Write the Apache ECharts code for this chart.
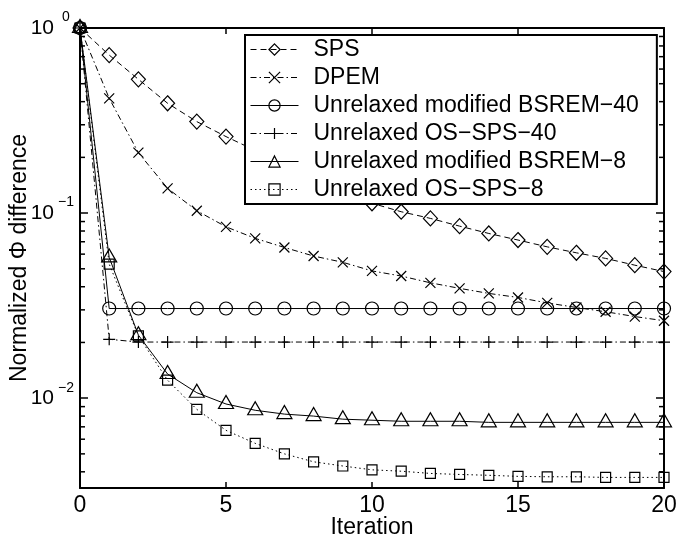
<!DOCTYPE html>
<html>
<head>
<meta charset="utf-8">
<script src="https://cdn.jsdelivr.net/npm/echarts@6/dist/echarts.min.js"></script>
<style>
html,body{margin:0;padding:0;background:#fff;}
#chart{width:678px;height:537px;}
</style>
</head>
<body>
<div id="chart"></div>
<script>
// ---- data ----
const iterations = [0,1,2,3,4,5,6,7,8,9,10,11,12,13,14,15,16,17,18,19,20];
const seriesNames = ['SPS','DPEM','Unrelaxed modified BSREM\u221240','Unrelaxed OS\u2212SPS\u221240','Unrelaxed modified BSREM\u22128','Unrelaxed OS\u2212SPS\u22128'];
const sps = [1, 0.714, 0.528, 0.392, 0.312, 0.259, 0.218, 0.184, 0.156, 0.133, 0.113, 0.1017, 0.0936, 0.085, 0.0776, 0.0715, 0.0657, 0.061, 0.0569, 0.0523, 0.0483];
const dpem = [1, 0.417, 0.212, 0.136, 0.103, 0.0843, 0.073, 0.0652, 0.0586, 0.0542, 0.0487, 0.0457, 0.042, 0.0392, 0.0368, 0.035, 0.0327, 0.0309, 0.0293, 0.0276, 0.0262];
const bsrem40 = [1, 0.0305, 0.0305, 0.0305, 0.0305, 0.0305, 0.0305, 0.0305, 0.0305, 0.0305, 0.0305, 0.0305, 0.0305, 0.0305, 0.0305, 0.0305, 0.0305, 0.0305, 0.0305, 0.0305, 0.0305];
const ossps40 = [1, 0.0208, 0.0201, 0.0201, 0.0201, 0.0201, 0.0201, 0.0201, 0.0201, 0.0201, 0.0201, 0.0201, 0.0201, 0.0201, 0.0201, 0.0201, 0.0201, 0.0201, 0.0201, 0.0201, 0.0201];
const bsrem8 = [1, 0.0576, 0.0219, 0.0135, 0.0107, 0.0093, 0.0086, 0.0082, 0.0080, 0.0077, 0.0076, 0.0075, 0.0075, 0.0075, 0.0074, 0.0074, 0.0074, 0.0074, 0.0074, 0.0074, 0.0074];
const ossps8 = [1, 0.053, 0.0217, 0.0125, 0.0087, 0.0067, 0.0057, 0.0050, 0.00453, 0.0043, 0.0041, 0.00403, 0.00392, 0.00387, 0.00383, 0.00378, 0.00376, 0.00376, 0.00373, 0.00373, 0.00373];
const xMin = 0, xMax = 20, xStep = 5;
const yMin = 0.00327, yMax = 1;
const minorTickValues = [0.004,0.005,0.006,0.007,0.008,0.009,0.02,0.03,0.04,0.05,0.06,0.07,0.08,0.09,0.2,0.3,0.4,0.5,0.6,0.7,0.8,0.9];

// ---- styles ----
const FONT = 'Liberation Sans, Arial, Helvetica, sans-serif';
const dashed = [6, 4];
const dashDot = [6, 3, 1.5, 3];
const dotted = [1.5, 3];
const plusPath = 'path://M5,0L5,10M0,5L10,5';
const crossPath = 'path://M0,0L10,10M10,0L0,10';

function pair(arr){ return iterations.map((x,i)=>[x, arr[i]]); }

function lineSeries(name, arr, symbol, size, dash, extra){
  return Object.assign({
    name: name,
    type: 'line',
    data: pair(arr),
    symbol: symbol,
    symbolSize: size,
    showSymbol: true,
    showAllSymbol: true,
    clip: false,
    z: 3,
    lineStyle: {color: '#000', width: 1, type: dash},
    itemStyle: {color: 'rgba(0,0,0,0)', borderColor: '#000', borderWidth: 1.2},
    emphasis: {disabled: true},
    animation: false
  }, extra || {});
}

function tickSeries(xVal, offset){
  return {
    type: 'scatter',
    silent: true,
    clip: false,
    z: 5,
    animation: false,
    symbol: 'rect',
    symbolSize: [5, 1.5],
    symbolOffset: [offset, 0],
    itemStyle: {color: '#000', opacity: 1},
    emphasis: {disabled: true},
    data: minorTickValues.map(v => [xVal, v])
  };
}

const chart = echarts.init(document.getElementById('chart'), null, {renderer: 'canvas'});

function yLabel(v){
  const e = Math.log10(v);
  const r = Math.round(e);
  if (Math.abs(e - r) > 1e-6) return '';
  const s = (r < 0 ? '\u2212' + (-r) : '' + r);
  return '{b|10}{s|' + s + '}';
}

const option = {
  backgroundColor: '#fff',
  animation: false,
  textStyle: {fontFamily: FONT, color: '#000'},
  grid: {left: 80, right: 14, top: 28, bottom: 49, containLabel: false, outerBoundsMode: 'none'},
  legend: {
    show: true,
    data: seriesNames,
    orient: 'vertical',
    left: 245,
    top: 35,
    itemWidth: 48,
    itemHeight: 14,
    itemGap: 5,
    padding: [3, 18, 3, 5],
    backgroundColor: '#fff',
    borderColor: '#000',
    borderWidth: 2,
    borderRadius: 0,
    selectedMode: false,
    lineStyle: {color: '#000', width: 1},
    itemStyle: {borderColor: '#000', borderWidth: 1.2},
    textStyle: {fontFamily: FONT, fontSize: 23, color: '#000', lineHeight: 22.5, padding: [0, 0, 0, 10]}
  },
  xAxis: [{
    type: 'value', min: xMin, max: xMax, interval: xStep,
    position: 'bottom',
    name: 'Iteration', nameLocation: 'middle', nameGap: 28, nameMoveOverlap: false,
    nameTextStyle: {fontFamily: FONT, fontSize: 23, color: '#000'},
    axisLine: {show: true, onZero: false, lineStyle: {color: '#000', width: 2}},
    axisTick: {show: true, inside: true, length: 6, lineStyle: {color: '#000', width: 1.5}},
    axisLabel: {show: true, margin: 6, fontFamily: FONT, fontSize: 23, color: '#000'},
    splitLine: {show: false}
  }, {
    type: 'value', min: xMin, max: xMax, interval: xStep,
    position: 'top',
    axisLine: {show: true, onZero: false, lineStyle: {color: '#000', width: 2}},
    axisTick: {show: true, inside: true, length: 6, lineStyle: {color: '#000', width: 1.5}},
    axisLabel: {show: false},
    splitLine: {show: false}
  }],
  yAxis: [{
    type: 'log', logBase: 10, min: yMin, max: yMax, splitNumber: 3,
    position: 'left',
    name: 'Normalized \u03A6 difference', nameLocation: 'middle', nameGap: 49, nameRotate: 90, nameMoveOverlap: false,
    nameTextStyle: {fontFamily: FONT, fontSize: 23, color: '#000'},
    axisLine: {show: true, onZero: false, lineStyle: {color: '#000', width: 2}},
    axisTick: {show: true, inside: true, length: 8, lineStyle: {color: '#000', width: 1.5}},
    axisLabel: {
      show: true, margin: 3,
      formatter: yLabel,
      rich: {
        b: {fontFamily: FONT, fontSize: 21, color: '#000', lineHeight: 21, verticalAlign: 'middle'},
        s: {fontFamily: FONT, fontSize: 14, color: '#000', lineHeight: 14, verticalAlign: 'middle', width: 22, align: 'left', padding: [0, 0, 21, 1]}
      }
    },
    splitLine: {show: false},
    minorTick: {show: false}
  }, {
    type: 'log', logBase: 10, min: yMin, max: yMax, splitNumber: 3,
    position: 'right',
    axisLine: {show: true, onZero: false, lineStyle: {color: '#000', width: 2}},
    axisTick: {show: true, inside: true, length: 8, lineStyle: {color: '#000', width: 1.5}},
    axisLabel: {show: false},
    splitLine: {show: false}
  }],
  series: [
    lineSeries(seriesNames[0], sps, 'diamond', [14, 15], dashed),
    lineSeries(seriesNames[1], dpem, crossPath, 10, dashDot),
    lineSeries(seriesNames[2], bsrem40, 'circle', 13, 'solid'),
    lineSeries(seriesNames[3], ossps40, plusPath, 12, dashDot),
    lineSeries(seriesNames[4], bsrem8, 'triangle', [15, 13], 'solid', {symbolOffset: [0, -2]}),
    lineSeries(seriesNames[5], ossps8, 'rect', 10, dotted),
    tickSeries(xMin, 2.5),
    tickSeries(xMax, -2.5)
  ]
};
chart.setOption(option);
</script>
</body>
</html>
